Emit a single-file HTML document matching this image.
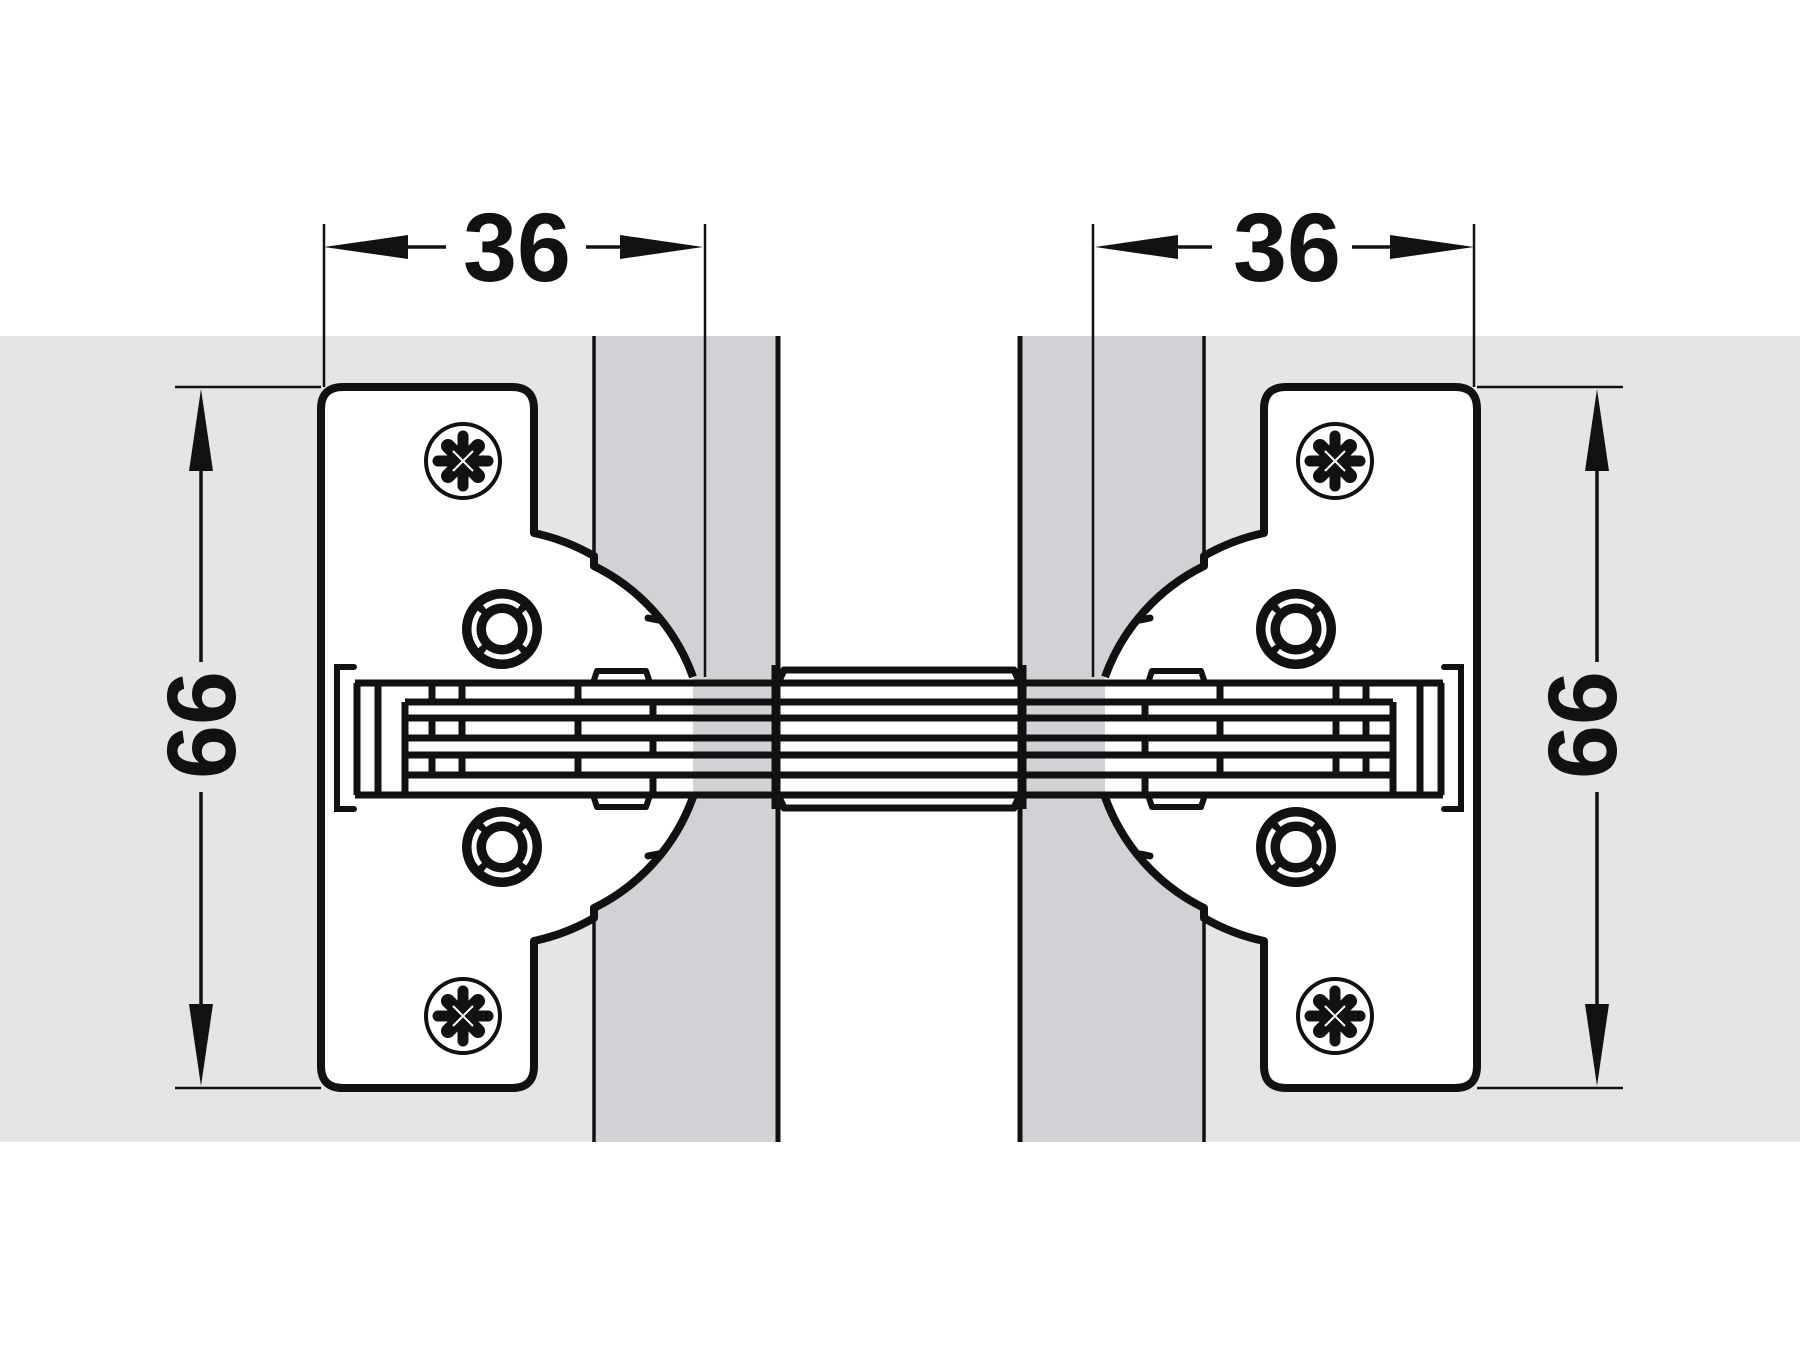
<!DOCTYPE html>
<html><head><meta charset="utf-8"><style>html,body{margin:0;padding:0;background:#fff}svg{display:block}</style></head>
<body>
<svg width="1800" height="1350" viewBox="0 0 1800 1350" xmlns="http://www.w3.org/2000/svg">
<defs>
<g id="screw">
  <circle r="37" fill="#fff" stroke="#111" stroke-width="4"/>
  <g stroke="#111" stroke-linecap="round">
    <line x1="-25" y1="0" x2="25" y2="0" stroke-width="11"/>
    <line x1="0" y1="-25" x2="0" y2="25" stroke-width="11"/>
    <line x1="-15" y1="-15" x2="15" y2="15" stroke-width="14"/>
    <line x1="-15" y1="15" x2="15" y2="-15" stroke-width="14"/>
  </g>
  <g stroke="#fff" stroke-width="2">
    <line x1="-10" y1="-10" x2="10" y2="10"/>
    <line x1="-10" y1="10" x2="10" y2="-10"/>
  </g>
</g>
<g id="ring">
  <circle r="28" fill="none" stroke="#111" stroke-width="24"/>
  <circle r="28" fill="none" stroke="#fff" stroke-width="5" stroke-dasharray="37 7" transform="rotate(51)"/>
</g>
<g id="side">
  <line x1="594" y1="336" x2="594" y2="1142" stroke="#111" stroke-width="3.5"/>
  <line x1="778" y1="336" x2="778" y2="1142" stroke="#111" stroke-width="5"/>
  <path d="M693,677 A198,198 0 0 0 594,566 L594,556 A207,207 0 0 0 534,533 L534,409 Q534,387 512,387 L343,387 Q321,387 321,409 L321,1066 Q321,1088 343,1088 L512,1088 Q534,1088 534,1066 L534,941 A207,207 0 0 0 594,918 L594,908 A198,198 0 0 0 693,797" fill="#fff" stroke="#111" stroke-width="8" stroke-linejoin="round"/>
  <line x1="648" y1="618" x2="658" y2="620" stroke="#111" stroke-width="7" stroke-linecap="round"/>
  <line x1="648" y1="856" x2="658" y2="854" stroke="#111" stroke-width="7" stroke-linecap="round"/>
  <use href="#screw" x="463" y="461"/>
  <use href="#screw" x="463" y="1016"/>
  <use href="#ring" x="502" y="629"/>
  <use href="#ring" x="502" y="847"/>
  <path d="M354,667 L337,667 L337,809 L354,809" fill="none" stroke="#111" stroke-width="6" stroke-linecap="round"/>
  <g stroke="#111" stroke-width="7">
    <line x1="357" y1="683" x2="357" y2="795"/>
    <line x1="378" y1="683" x2="378" y2="795"/>
    <line x1="405" y1="702" x2="405" y2="795"/>
    <line x1="432" y1="683" x2="432" y2="702"/><line x1="432" y1="718" x2="432" y2="738"/><line x1="432" y1="755" x2="432" y2="775"/>
    <line x1="462" y1="683" x2="462" y2="702"/><line x1="462" y1="718" x2="462" y2="738"/><line x1="462" y1="755" x2="462" y2="775"/>
    <line x1="578" y1="683" x2="578" y2="702"/><line x1="578" y1="718" x2="578" y2="738"/><line x1="578" y1="755" x2="578" y2="775"/>
    <line x1="653" y1="702" x2="653" y2="718"/><line x1="653" y1="738" x2="653" y2="755"/><line x1="653" y1="775" x2="653" y2="795"/>
  </g>
  <path d="M593,683 L597,671 L646,671 L650,683" fill="none" stroke="#111" stroke-width="6" stroke-linejoin="round"/>
  <path d="M593,795 L597,807 L646,807 L650,795" fill="none" stroke="#111" stroke-width="6" stroke-linejoin="round"/>
  <line x1="324" y1="224" x2="324" y2="387" stroke="#111" stroke-width="2.5"/>
  <line x1="705" y1="224" x2="705" y2="677" stroke="#111" stroke-width="2.5"/>
  <polygon points="324,247 408,235 408,259" fill="#111"/>
  <polygon points="703,247 620,235 620,259" fill="#111"/>
  <line x1="408" y1="247" x2="446" y2="247" stroke="#111" stroke-width="3.5"/>
  <line x1="586" y1="247" x2="620" y2="247" stroke="#111" stroke-width="3.5"/>
  <line x1="175" y1="387" x2="321" y2="387" stroke="#111" stroke-width="2.5"/>
  <line x1="175" y1="1088" x2="321" y2="1088" stroke="#111" stroke-width="2.5"/>
  <polygon points="201,389 189,471 213,471" fill="#111"/>
  <polygon points="201,1086 189,1004 213,1004" fill="#111"/>
  <line x1="201" y1="471" x2="201" y2="662" stroke="#111" stroke-width="3.5"/>
  <line x1="201" y1="792" x2="201" y2="1004" stroke="#111" stroke-width="3.5"/>
</g>
</defs>
<rect width="1800" height="1350" fill="#fff"/>
<rect x="0" y="336" width="1800" height="806" fill="#e3e5e7"/>
<rect x="594" y="336" width="184" height="806" fill="#d0d2d5"/>
<rect x="1020" y="336" width="184" height="806" fill="#d0d2d5"/>
<rect x="778" y="336" width="242" height="806" fill="#fff"/>
<use href="#side"/>
<use href="#side" transform="translate(1798,0) scale(-1,1)"/>
<g stroke="#111" stroke-width="7">
  <line x1="355" y1="683" x2="1443" y2="683"/>
  <line x1="355" y1="795" x2="1443" y2="795"/>
  <line x1="405" y1="702" x2="1393" y2="702"/>
  <line x1="405" y1="718" x2="1393" y2="718"/>
  <line x1="405" y1="738" x2="1393" y2="738"/>
  <line x1="405" y1="755" x2="1393" y2="755"/>
  <line x1="405" y1="775" x2="1393" y2="775"/>
  <line x1="775" y1="665" x2="775" y2="809"/>
  <line x1="1023" y1="665" x2="1023" y2="809"/>
</g>
<path d="M778,683 L784,670 L1014,670 L1020,683" fill="none" stroke="#111" stroke-width="7" stroke-linejoin="round"/>
<path d="M778,795 L784,808 L1014,808 L1020,795" fill="none" stroke="#111" stroke-width="7" stroke-linejoin="round"/>
<g font-family="Liberation Sans, sans-serif" font-weight="bold" font-size="97" fill="#111" text-anchor="middle">
  <text x="517" y="281">36</text>
  <text x="1287" y="281">36</text>
  <text transform="translate(235,725) rotate(-90)">66</text>
  <text transform="translate(1616,725) rotate(-90)">66</text>
</g>
</svg>
</body></html>
